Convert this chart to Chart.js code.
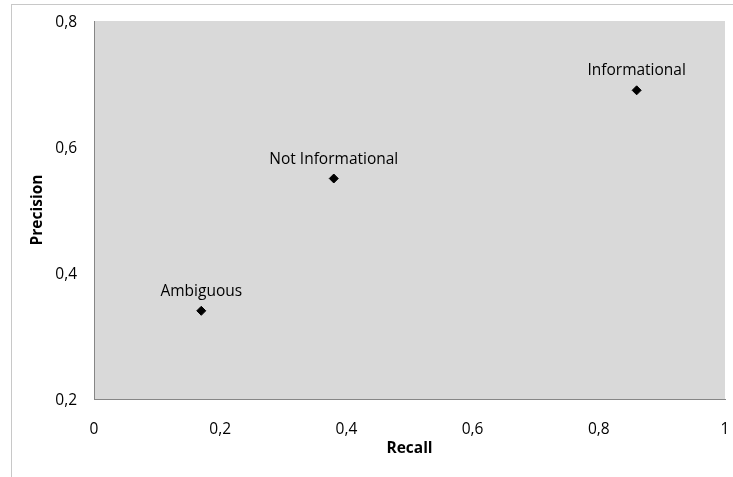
<!DOCTYPE html>
<html>
<head>
<meta charset="utf-8">
<script src="https://cdn.jsdelivr.net/npm/chart.js@4"></script>
<style>
  body { margin: 0; background: #fff; }
  #wrap { position: relative; width: 733px; height: 477px; }
  #frame { position: absolute; left: 11px; top: 4px; right: 0; bottom: 0;
           border-left: 1px solid #c8c8c8; border-top: 1px solid #c8c8c8; pointer-events: none; }
</style>
</head>
<body>
<div id="wrap">
  <canvas id="myChart" width="733" height="477"></canvas>
  <div id="frame"></div>
</div>
<script>
let point_names = ['Ambiguous', 'Not Informational', 'Informational'];
let recall = [0.17, 0.38, 0.86];
let precision = [0.34, 0.55, 0.69];

const fontFam = "'Open Sans', sans-serif";
const fontSize = 15.5;

// gray plot background
const plotBg = {
    id: 'plotBg',
    beforeDraw(chart) {
        const { ctx, chartArea: a } = chart;
        ctx.save();
        ctx.fillStyle = '#d9d9d9';
        ctx.fillRect(a.left, a.top, a.right - a.left, a.bottom - a.top);
        ctx.restore();
    }
};

// names written above each point
const pointLabels = {
    id: 'pointLabels',
    afterDatasetsDraw(chart) {
        const ctx = chart.ctx;
        const meta = chart.getDatasetMeta(0);
        ctx.save();
        ctx.font = fontSize + 'px ' + fontFam;
        ctx.fillStyle = '#000';
        ctx.textAlign = 'center';
        ctx.textBaseline = 'alphabetic';
        meta.data.forEach((pt, i) => {
            ctx.fillText(point_names[i], pt.x, pt.y - 15);
        });
        ctx.restore();
    }
};

const commaLabel = v => String(Math.round(v * 10) / 10).replace('.', ',');

let ct = document.getElementById('myChart').getContext('2d');
let myChart = new Chart(ct, {
    type: 'scatter',
    data: {
        datasets: [{
            label: 'Precision/Recall',
            data: recall.map((r, i) => ({ x: r, y: precision[i] })),
            backgroundColor: '#000',
            borderColor: '#000',
            pointStyle: 'rectRot',
            pointRadius: 4.5,
            pointHoverRadius: 4.5
        }]
    },
    options: {
        responsive: false,
        animation: false,
        layout: { padding: { left: 0, top: 21, right: 8, bottom: 0 } },
        plugins: {
            legend: { display: false },
            tooltip: { enabled: false }
        },
        scales: {
            x: {
                type: 'linear',
                min: 0,
                max: 1,
                afterFit: s => { s.height = 78; s.paddingLeft = 0; s.paddingRight = 0; },
                grid: { display: false, drawTicks: false },
                border: { display: true, color: '#868686' },
                ticks: {
                    stepSize: 0.2,
                    padding: 21,
                    color: '#000',
                    font: { family: fontFam, size: fontSize },
                    callback: commaLabel
                },
                title: {
                    display: true,
                    text: 'Recall',
                    color: '#000',
                    font: { family: fontFam, size: fontSize, weight: 'bold' },
                    padding: { top: 0, bottom: 19 }
                }
            },
            y: {
                type: 'linear',
                min: 0.2,
                max: 0.8,
                afterFit: s => { s.width = 94; s.paddingTop = 0; s.paddingBottom = 0; },
                grid: { display: false, drawTicks: false },
                border: { display: true, color: '#868686' },
                ticks: {
                    stepSize: 0.2,
                    padding: 17,
                    labelOffset: 2,
                    color: '#000',
                    font: { family: fontFam, size: fontSize },
                    callback: commaLabel
                },
                title: {
                    display: true,
                    text: 'Precision',
                    color: '#000',
                    font: { family: fontFam, size: fontSize, weight: 'bold' },
                    padding: { top: 28, bottom: 0 }
                }
            }
        }
    },
    plugins: [plotBg, pointLabels]
});
</script>
</body>
</html>
